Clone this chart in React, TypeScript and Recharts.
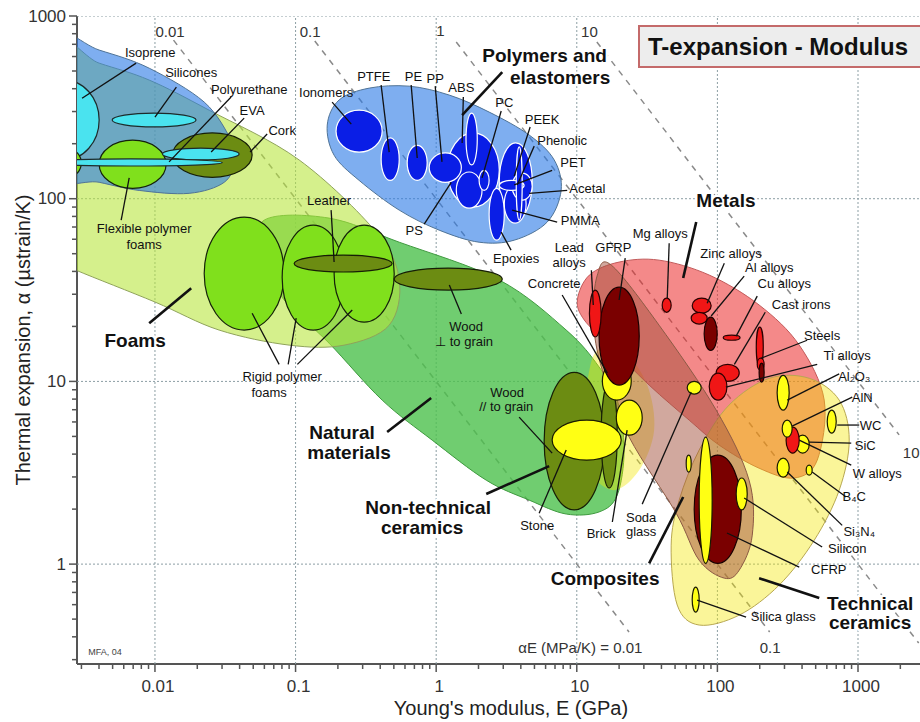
import React from 'react'
import { ScatterChart, Scatter, XAxis, YAxis } from 'recharts'

const FONT = '"Liberation Sans", Arial, Helvetica, sans-serif'

// axes (log-log): Young's modulus E in GPa, thermal expansion alpha in µstrain/K
const X_DOMAIN: [number, number] = [0.00279, 2760]
const Y_DOMAIN: [number, number] = [0.284, 1000]
const X_TICKS = [
  0.003, 0.004, 0.005, 0.006, 0.007, 0.008, 0.009,
  0.01, 0.02, 0.03, 0.04, 0.05, 0.06, 0.07, 0.08, 0.09,
  0.1, 0.2, 0.3, 0.4, 0.5, 0.6, 0.7, 0.8, 0.9,
  1, 2, 3, 4, 5, 6, 7, 8, 9,
  10, 20, 30, 40, 50, 60, 70, 80, 90,
  100, 200, 300, 400, 500, 600, 700, 800, 900,
  1000, 2000,
]
const Y_TICKS = [
  0.3, 0.4, 0.5, 0.6, 0.7, 0.8, 0.9,
  1, 2, 3, 4, 5, 6, 7, 8, 9,
  10, 20, 30, 40, 50, 60, 70, 80, 90,
  100, 200, 300, 400, 500, 600, 700, 800, 900,
  1000,
]
const GRID_X = [0.01, 0.1, 1, 10, 100, 1000]
const GRID_Y = [1, 10, 100, 1000]

// guide lines alpha*E = const (MPa/K), visible between two alpha values
const AE_VALUES = [0.01, 0.1, 1, 10]
const AE_ALPHA_START = [738, 730, 720, 720]
const AE_ALPHA_END = [0.425, 0.425, 0.37, 5.1]

// family envelopes: outline points [E, alpha]
const NATURAL_ENV: [number, number][] = [
  [0.0598, 76.3], [0.173, 78.3], [0.546, 57.8], [2.81, 35.9], [8.41, 19.1], [14.4, 12.0], [19.4, 7.9],
  [21.7, 4.21], [19.4, 2.39], [14.4, 1.93], [8.41, 1.88], [4.59, 2.24], [2.27, 2.88], [0.937, 4.77],
  [0.413, 7.9], [0.173, 16.2], [0.083, 27.9], [0.0569, 46.1],
]
const FOAMS_ENV: [number, number][] = [
  [0.00163, 693], [0.00401, 552], [0.0091, 446], [0.0243, 305], [0.106, 163], [0.374, 65.6], [0.546, 35.9],
  [0.463, 20.3], [0.222, 15.8], [0.09, 15.8], [0.0286, 19.1], [0.01, 27.2], [0.00275, 40.6], [0.00163, 49.1],
]
const ELASTOMER_ENV: [number, number][] = [
  [0.00163, 786], [0.00401, 651], [0.0091, 518], [0.0224, 338], [0.0348, 209], [0.0372, 163],
  [0.0311, 123], [0.0175, 107], [0.00773, 111], [0.00401, 123], [0.00163, 143],
]
const POLYMER_ENV: [number, number][] = [
  [0.168, 253], [0.204, 347], [0.334, 403], [0.643, 413], [1.24, 369], [2.38, 298], [4.59, 223], [6.91, 163],
  [7.74, 111], [6.16, 74.5], [3.59, 59.3], [2.02, 57.8], [1.05, 67.3], [0.546, 86.6], [0.283, 126], [0.188, 173],
]
const NONTECH_ENV: [number, number][] = [
  [14.0, 14.8], [21.7, 14.5], [31.7, 9.55], [35.5, 5.41], [27.8, 3.27], [18.4, 2.54], [12.3, 3.27], [10.7, 6.14], [11.9, 10.2],
]
const METALS_ENV: [number, number][] = [
  [10.1, 27.9], [12.3, 38.2], [20.0, 45.0], [38.5, 46.1], [87.5, 38.2], [198, 26.2], [382, 15.8], [575, 7.9],
  [513, 3.71], [352, 2.96], [198, 3.35], [103, 4.48], [63.0, 6.14], [32.7, 9.55], [17.0, 15.8], [11.3, 21.7],
]
const TECH_ENV: [number, number][] = [
  [46.9, 1.27], [53.5, 2.24], [74.2, 4.21], [121, 7.42], [234, 10.4], [450, 10.4], [735, 7.9],
  [866, 4.77], [735, 2.54], [488, 1.35], [275, 0.768], [143, 0.526], [74.2, 0.464], [51.8, 0.597],
]
const COMPOSITE_ENV: [number, number][] = [
  [14.0, 38.2], [17.6, 43.3], [38.5, 20.3], [98.0, 6.97], [168, 2.88], [177, 1.44], [143, 0.927],
  [112, 0.838], [74.2, 1.05], [50.9, 1.9], [23.6, 4.95], [15.2, 11.5], [13.1, 21.7],
]

// material bubbles: [name, family, E low, E high, alpha low, alpha high] in drawing order
const BUBBLES: [string, string, number, number, number, number][] = [
  ['Isoprene', 'elastomer', 0.00127, 0.00401, 163, 446],
  ['Very flexible foams', 'foam', 0.00208, 0.00299, 133, 185],
  ['Flexible polymer foams', 'foam', 0.00401, 0.012, 114, 209],
  ['Silicones', 'elastomer', 0.00496, 0.0196, 247, 294],
  ['Cork', 'natural', 0.0133, 0.0491, 131, 229],
  ['EVA', 'elastomer', 0.0113, 0.0397, 163, 189],
  ['Polyurethane', 'elastomer', 0.0015, 0.0301, 151, 165],
  ['Rigid foams (low density)', 'foam', 0.0224, 0.083, 19.1, 79.3],
  ['Rigid foams (medium density)', 'foam', 0.0803, 0.222, 19.1, 71.7],
  ['Rigid foams (high density)', 'foam', 0.188, 0.503, 21.1, 71.7],
  ['Leather', 'natural', 0.0977, 0.486, 39.7, 49.1],
  ['Wood, transverse', 'natural', 0.503, 2.95, 31.6, 41.7],
  ['Wood, parallel', 'natural', 5.86, 15.7, 1.98, 11.2],
  ['Dense wood', 'natural', 14.9, 19.4, 2.61, 9.91],
  ['Stone', 'ceramic', 6.68, 20.7, 3.71, 6.14],
  ['Concrete', 'ceramic', 15.2, 24.4, 7.9, 12.8],
  ['Brick', 'ceramic', 19.1, 29.2, 5.08, 7.9],
  ['Ionomers', 'polymer', 0.194, 0.413, 180, 305],
  ['PTFE', 'polymer', 0.406, 0.546, 126, 215],
  ['PE', 'polymer', 0.622, 0.863, 126, 196],
  ['ABS', 'polymer', 1.2, 2.81, 90.0, 229],
  ['PP', 'polymer', 0.892, 1.51, 123, 178],
  ['PS', 'polymer', 1.39, 2.12, 88.8, 140],
  ['Phenolic', 'polymer', 2.81, 4.82, 76.3, 202],
  ['PMMA', 'polymer', 3.05, 4.36, 73.5, 119],
  ['Acetal', 'polymer', 3.47, 4.82, 98.3, 138],
  ['PC', 'polymer', 1.63, 1.96, 153, 294],
  ['PA', 'polymer', 2.02, 2.38, 111, 143],
  ['PET', 'polymer', 2.81, 4.22, 111, 126],
  ['PEEK', 'polymer', 3.71, 4.09, 76.3, 192],
  ['Epoxies', 'polymer', 2.38, 3.05, 59.3, 114],
  ['GFRP', 'composite', 14.4, 27.8, 9.55, 32.8],
  ['Lead alloys', 'metal', 12.3, 14.9, 17.5, 31.6],
  ['Mg alloys', 'metal', 40.5, 46.9, 23.9, 28.6],
  ['Zinc alloys', 'metal', 66.2, 90.3, 23.6, 28.6],
  ['Zinc alloys (cast)', 'metal', 65.1, 84.6, 20.6, 23.9],
  ['Al alloys', 'metalDark', 80.5, 99.7, 14.8, 22.5],
  ['Cu alloys', 'metal', 110, 145, 16.8, 17.9],
  ['Cast irons', 'metal', 98.0, 143, 10.0, 12.4],
  ['Ti alloys', 'metal', 87.5, 117, 7.9, 11.1],
  ['Steels', 'metal', 189, 212, 12.0, 19.8],
  ['Tool steels', 'metal', 192, 215, 11.5, 13.4],
  ['Stainless steels', 'metalDark', 198, 215, 9.91, 12.6],
  ['Soda glass', 'ceramic', 61.0, 76.7, 8.52, 10.0],
  ['Al2O3', 'ceramic', 266, 324, 6.97, 10.8],
  ['SiC', 'ceramic', 363, 450, 4.05, 5.08],
  ['W alloys', 'metal', 308, 382, 4.05, 5.62],
  ['AlN', 'ceramic', 289, 340, 4.95, 6.14],
  ['WC', 'ceramic', 604, 700, 5.21, 6.97],
  ['Si3N4', 'ceramic', 266, 324, 2.99, 3.8],
  ['B4C', 'ceramic', 428, 472, 3.07, 3.48],
  ['CFRP', 'composite', 68.4, 148, 1.01, 3.95],
  ['Glass ceramic', 'ceramic', 74.2, 91.8, 1.01, 4.95],
  ['Silicon', 'ceramic', 136, 163, 1.98, 2.96],
  ['Borosilicate glass', 'ceramic', 60.0, 65.1, 3.19, 3.95],
  ['Silica glass', 'ceramic', 66.2, 74.2, 0.546, 0.748],
]

// leader lines [E1, alpha1, E2, alpha2]
const THIN_LEADERS: [number, number, number, number][] = [
  [0.00735, 552, 0.00303, 355], [0.0142, 408, 0.01, 280], [0.0348, 360, 0.0126, 159], [0.0431, 276, 0.0251, 180],
  [0.0628, 226, 0.0475, 180], [0.00575, 76.3, 0.00656, 130], [0.0764, 12.4, 0.0491, 23.6], [0.0886, 12.4, 0.101, 22.2],
  [0.103, 12.4, 0.253, 24.6], [0.179, 86.6, 0.188, 45.0], [1.51, 23.4, 1.24, 33.7], [3.89, 6.38, 6.68, 4.05],
  [0.182, 338, 0.249, 256], [0.406, 419, 0.463, 180], [0.664, 419, 0.733, 167], [0.984, 413, 1.1, 159],
  [1.56, 360, 1.53, 202], [2.9, 302, 2.12, 130], [4.66, 247, 3.59, 133], [4.98, 194, 3.77, 119],
  [6.68, 143, 3.59, 119], [8.55, 111, 4.59, 107], [7.25, 74.5, 3.47, 86.6], [0.822, 72.6, 1.28, 123],
  [3.41, 52.3, 2.9, 65.6], [12.7, 40.6, 13.1, 26.2], [22.1, 47.3, 20.0, 27.9], [7.87, 29.7, 16.5, 11.1],
  [45.4, 57.1, 44.0, 28.6], [112, 44.4, 84.6, 26.8], [155, 37.7, 90.3, 22.8], [192, 29.3, 136, 17.7],
  [219, 23.9, 132, 12.4], [435, 16.8, 205, 13.4], [513, 12.4, 115, 9.31], [735, 11.0, 314, 7.9],
  [910, 8.2, 340, 5.69], [1020, 5.77, 711, 5.77], [895, 4.59, 450, 4.65], [895, 3.48, 382, 4.77],
  [824, 2.33, 472, 3.19], [772, 1.63, 314, 3.19], [556, 1.24, 155, 2.3], [382, 0.963, 117, 1.48],
  [160, 0.513, 71.8, 0.635], [5.4, 1.9, 8.41, 4.21], [17.9, 1.7, 22.8, 5.41], [29.2, 2.13, 65.1, 8.74],
]
const THICK_LEADERS: [number, number, number, number][] = [
  [2.95, 493, 1.53, 287], [0.0091, 20.8, 0.0181, 32.4], [0.448, 5.28, 0.921, 8.11], [2.27, 2.42, 6.36, 3.44],
  [70.7, 74.5, 57.1, 36.8], [32.7, 1.01, 57.1, 2.33], [530, 0.652, 198, 0.838],
]

// labels [text, E, alpha] (text centre)
const MATERIAL_LABELS: [string, number, number][] = [
  ['Isoprene', 0.00925, 634], ['Silicones', 0.0181, 493], ['Polyurethane', 0.0468, 398], ['EVA', 0.0491, 305],
  ['Cork', 0.0803, 237], ['Flexible polymer', 0.00838, 69.0], ['foams', 0.00838, 56.4],
  ['Rigid polymer', 0.0803, 10.7], ['foams', 0.0649, 8.74], ['Leather', 0.173, 98.3],
  ['Wood', 1.63, 20.1], ['⊥ to grain', 1.58, 16.6], ['Wood', 3.2, 8.74], ['// to grain', 3.15, 7.33],
  ['Ionomers', 0.165, 383], ['PTFE', 0.36, 469], ['PE', 0.69, 469], ['PP', 0.984, 457], ['ABS', 1.51, 408],
  ['PC', 3.05, 338], ['PEEK', 5.67, 273], ['Phenolic', 7.87, 209], ['PET', 9.4, 157], ['Acetal', 11.9, 114],
  ['PMMA', 10.6, 76.3], ['PS', 0.698, 67.3], ['Epoxies', 3.71, 47.3], ['Lead', 8.83, 54.3], ['alloys', 8.83, 45.0],
  ['GFRP', 18.2, 54.3], ['Concrete', 6.91, 34.5], ['Mg alloys', 39.2, 64.9], ['Zinc alloys', 125, 50.4],
  ['Al alloys', 234, 42.2], ['Cu alloys', 299, 34.5], ['Cast irons', 394, 26.2], ['Steels', 556, 17.9],
  ['Ti alloys', 838, 13.9], ['Al₂O₃', 940, 10.7], ['AlN', 1072, 8.2], ['WC', 1230, 5.77], ['SiC', 1125, 4.48],
  ['W alloys', 1370, 3.15], ['B₄C', 940, 2.33], ['Si₃N₄', 1020, 1.5], ['Silicon', 838, 1.22], ['CFRP', 620, 0.939],
  ['Silica glass', 294, 0.519], ['Stone', 5.23, 1.63], ['Brick', 14.9, 1.48], ['Soda', 28.7, 1.81], ['glass', 28.7, 1.5],
]
const GROUP_LABELS: [string, number, number][] = [
  ['Polymers and', 5.9, 611], ['elastomers', 7.62, 463], ['Foams', 0.00723, 16.8], ['Natural', 0.214, 5.28],
  ['materials', 0.24, 4.1], ['Non-technical', 0.877, 2.03], ['ceramics', 0.795, 1.59], ['Metals', 115, 98.3],
  ['Composites', 15.9, 0.838], ['Technical', 1220, 0.612], ['ceramics', 1220, 0.481],
]
const AE_LABELS: [string, number, number][] = [
  ['0.01', 0.0128, 827], ['0.1', 0.127, 827], ['1', 1.07, 837], ['10', 12.3, 827],
  ['αE (MPa/K) = 0.01', 10.6, 0.351], ['0.1', 237, 0.351], ['10', 2390, 4.1],
]
const NOTE_LABELS: [string, number, number][] = [['MFA, 04', 0.00442, 0.33]]

const BUBBLE_STYLE: Record<string, { fill: string; stroke: string }> = {
  elastomer: { fill: '#4ae3ef', stroke: '#1d2b2b' },
  foam: { fill: '#80e01c', stroke: '#15220a' },
  natural: { fill: '#6c8c12', stroke: '#161e06' },
  polymer: { fill: '#0a1ee6', stroke: '#ffffff' },
  metal: { fill: '#f01616', stroke: '#2a0000' },
  metalDark: { fill: '#7a0000', stroke: '#1a0000' },
  composite: { fill: '#7a0000', stroke: '#1a0000' },
  ceramic: { fill: '#ffff14', stroke: '#1a1a00' },
}

const ENVELOPES = [
  { name: 'Natural materials', pts: NATURAL_ENV, fill: '#4cc04c', opacity: 0.8, stroke: '#3f9a3f' },
  { name: 'Foams', pts: FOAMS_ENV, fill: '#b7e539', opacity: 0.58, stroke: '#8fa35a' },
  { name: 'Elastomers', pts: ELASTOMER_ENV, fill: '#2878e6', opacity: 0.6, stroke: '#4f7396' },
  { name: 'Polymers', pts: POLYMER_ENV, fill: '#2878e6', opacity: 0.6, stroke: '#4f7396' },
  { name: 'Non-technical ceramics', pts: NONTECH_ENV, fill: '#f2e600', opacity: 0.4, stroke: 'none' },
  { name: 'Metals', pts: METALS_ENV, fill: '#eb2828', opacity: 0.55, stroke: '#c25a5a' },
  { name: 'Technical ceramics', pts: TECH_ENV, fill: '#f2e600', opacity: 0.4, stroke: '#b8a850' },
  { name: 'Composites', pts: COMPOSITE_ENV, fill: '#a3523d', opacity: 0.5, stroke: '#8c5a44' },
]

type Pt = { x: number; y: number }
const Nothing = () => <g />

// smooth closed outline through the mapped points (Catmull-Rom)
function closedCurve(pts: Pt[]) {
  const n = pts.length
  let d = `M${pts[0].x},${pts[0].y}`
  for (let i = 0; i < n; i++) {
    const p0 = pts[(i - 1 + n) % n], p1 = pts[i], p2 = pts[(i + 1) % n], p3 = pts[(i + 2) % n]
    d += ` C${p1.x + (p2.x - p0.x) / 6},${p1.y + (p2.y - p0.y) / 6} ${p2.x - (p3.x - p1.x) / 6},${p2.y - (p3.y - p1.y) / 6} ${p2.x},${p2.y}`
  }
  return d + 'Z'
}

const segments = (stroke: string, width: number, dash?: string) => (p: any) => {
  const pts: Pt[] = p.points
  const out = []
  for (let i = 0; i + 1 < pts.length; i += 2) {
    out.push(<line key={i} x1={pts[i].x} y1={pts[i].y} x2={pts[i + 1].x} y2={pts[i + 1].y}
      stroke={stroke} strokeWidth={width} strokeDasharray={dash} />)
  }
  return <g>{out}</g>
}

const bubbles = (p: any) => {
  const pts: Pt[] = p.points
  return (
    <g>
      {BUBBLES.map((b, i) => {
        const a = pts[2 * i], c = pts[2 * i + 1]
        const s = BUBBLE_STYLE[b[1]]
        return <ellipse key={b[0]} cx={(a.x + c.x) / 2} cy={(a.y + c.y) / 2} rx={Math.abs(c.x - a.x) / 2}
          ry={Math.abs(c.y - a.y) / 2} fill={s.fill} stroke={s.stroke} strokeWidth={1.2} />
      })}
    </g>
  )
}

const textShape = (size: number, bold: boolean, halo: boolean, color = '#111') => (p: any) => (
  <text x={p.cx} y={p.cy} textAnchor="middle" dominantBaseline="central" fontSize={size}
    fontWeight={bold ? 700 : 400} fontFamily={FONT} fill={color}
    stroke={halo ? '#fff' : 'none'} strokeWidth={halo ? 5 : 0} strokeLinejoin="round" paintOrder="stroke">
    {p.payload.t}
  </text>
)

const isMajor = (v: number) => Math.abs(Math.log10(v) - Math.round(Math.log10(v))) < 1e-6

function XTick({ x, y, payload }: any) {
  const major = isMajor(payload.value)
  return (
    <g>
      <line x1={x} x2={x} y1={y} y2={y + (major ? 8 : 5)} stroke="#555" strokeWidth={1.5} />
      {major && <text x={x + 3} y={y + 22} textAnchor="middle" dominantBaseline="central" fontSize={17}
        fontFamily={FONT} fill="#333">{String(payload.value)}</text>}
    </g>
  )
}

function YTick({ x, y, payload }: any) {
  const major = isMajor(payload.value)
  return (
    <g>
      <line x1={x - (major ? 8 : 5)} x2={x} y1={y} y2={y} stroke="#555" strokeWidth={1.5} />
      {major && <text x={x - 11} y={y} textAnchor="end" dominantBaseline="central" fontSize={17}
        fontFamily={FONT} fill="#333">{String(payload.value)}</text>}
    </g>
  )
}

const pairPts = (rows: [number, number, number, number][]) =>
  rows.flatMap(([e1, a1, e2, a2]) => [{ x: e1, y: a1 }, { x: e2, y: a2 }])
const labelPts = (rows: [string, number, number][]) => rows.map(([t, x, y]) => ({ x, y, t }))

export default function App() {
  const gridData = [
    ...GRID_X.flatMap(g => [{ x: g, y: Y_DOMAIN[0] }, { x: g, y: Y_DOMAIN[1] }]),
    ...GRID_Y.flatMap(g => [{ x: X_DOMAIN[0], y: g }, { x: X_DOMAIN[1], y: g }]),
  ]
  const aeData = AE_VALUES.flatMap((v, i) => [
    { x: (1000 * v) / AE_ALPHA_START[i], y: AE_ALPHA_START[i] },
    { x: (1000 * v) / AE_ALPHA_END[i], y: AE_ALPHA_END[i] },
  ])
  const bubbleData = BUBBLES.flatMap(([, , e0, e1, a0, a1]) => [{ x: e0, y: a0 }, { x: e1, y: a1 }])

  return (
    <div style={{ position: 'absolute', left: 0, top: 0, width: 920, height: 722, background: '#fff', overflow: 'hidden' }}>
      <ScatterChart width={920} height={722} margin={{ top: 16, right: 0, bottom: 0, left: 0 }}>
        <XAxis type="number" dataKey="x" scale="log" domain={X_DOMAIN} allowDataOverflow ticks={X_TICKS}
          interval={0} height={58} tickSize={0} tickMargin={0} tickLine={false} tick={<XTick />}
          axisLine={{ stroke: '#555', strokeWidth: 2 }}
          label={() => (
            <text x={511} y={708} textAnchor="middle" dominantBaseline="central" fontSize={20} fontFamily={FONT} fill="#222">
              Young's modulus, E (GPa)
            </text>
          )} />
        <YAxis type="number" dataKey="y" scale="log" domain={Y_DOMAIN} allowDataOverflow ticks={Y_TICKS}
          interval={0} width={77} tickSize={0} tickMargin={0} tickLine={false} tick={<YTick />}
          axisLine={{ stroke: '#555', strokeWidth: 2 }}
          label={() => (
            <text x={23} y={340} transform="rotate(-90 23 340)" textAnchor="middle" dominantBaseline="central"
              fontSize={20} fontFamily={FONT} fill="#222">
              Thermal expansion, α (µstrain/K)
            </text>
          )} />

        {/* decade grid and alpha*E guide lines */}
        <Scatter data={gridData} shape={Nothing} isAnimationActive={false} line={segments('#8c9ea4', 1, '2 2')} />
        <Scatter data={aeData} shape={Nothing} isAnimationActive={false} line={segments('#8a8a8a', 1.5, '6 6')} />

        {/* family envelopes */}
        {ENVELOPES.map(env => (
          <Scatter key={env.name} data={env.pts.map(([x, y]) => ({ x, y }))} shape={Nothing} isAnimationActive={false}
            line={(p: any) => <path d={closedCurve(p.points)} fill={env.fill} fillOpacity={env.opacity}
              stroke={env.stroke} strokeWidth={1} />} />
        ))}

        {/* material bubbles */}
        <Scatter data={bubbleData} shape={Nothing} isAnimationActive={false} line={bubbles} />

        {/* leaders */}
        <Scatter data={pairPts(THIN_LEADERS)} shape={Nothing} isAnimationActive={false} line={segments('#111', 1.3)} />
        <Scatter data={pairPts(THICK_LEADERS)} shape={Nothing} isAnimationActive={false} line={segments('#111', 2.6)} />

        {/* labels */}
        <Scatter data={labelPts(MATERIAL_LABELS)} isAnimationActive={false} shape={textShape(13, false, false)} />
        <Scatter data={labelPts(NOTE_LABELS)} isAnimationActive={false} shape={textShape(9, false, false, '#444')} />
        <Scatter data={labelPts(AE_LABELS)} isAnimationActive={false} shape={textShape(15, false, false, '#333')} />
        <Scatter data={labelPts(GROUP_LABELS)} isAnimationActive={false} shape={textShape(19, true, true)} />
      </ScatterChart>

      <div style={{
        position: 'absolute', left: 638, top: 25, width: 290, height: 43, boxSizing: 'border-box',
        background: '#ededed', border: '2px solid #c46a6a', paddingLeft: 8, lineHeight: '39px',
        fontFamily: FONT, fontWeight: 700, fontSize: 24, color: '#111', whiteSpace: 'nowrap',
      }}>
        T-expansion - Modulus
      </div>
    </div>
  )
}
